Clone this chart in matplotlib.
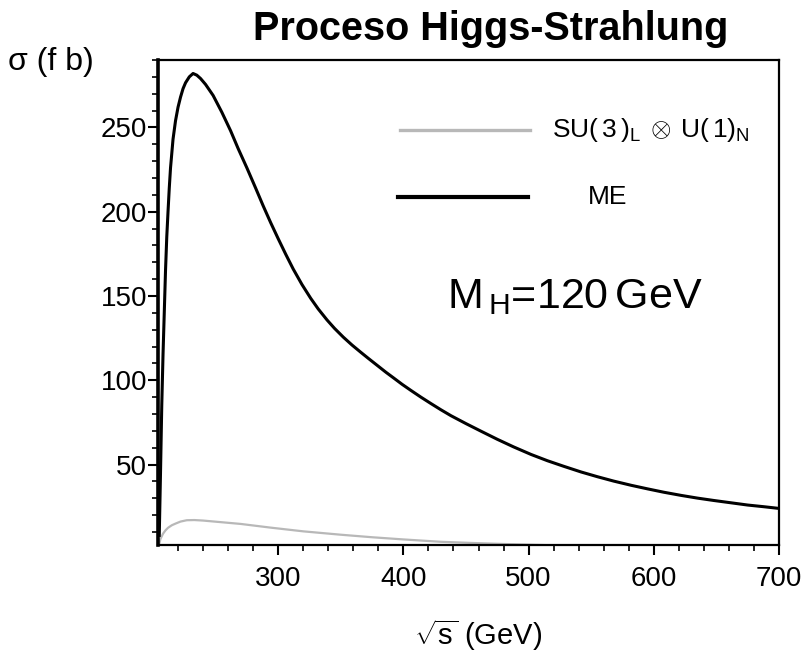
import matplotlib
matplotlib.use("Agg")
import matplotlib.pyplot as plt
from matplotlib.ticker import MultipleLocator

# Data
s_me = [205, 206, 207, 208, 209, 210, 211, 212, 213, 214, 216, 218, 220, 222, 224, 226,
        229, 232, 235, 238, 242, 248, 255, 262, 268, 275, 282, 288, 294, 300, 306, 312,
        319, 326, 332, 339, 345, 352, 359, 366, 372, 379, 386, 392, 399, 406, 414, 422,
        430, 438, 450, 462, 475, 488, 502, 515, 528, 542, 555, 568, 582, 595, 608, 622,
        635, 648, 660, 675, 688, 700]
sigma_me = [8, 45, 85, 115, 140, 165, 185, 200, 214, 226, 243, 254, 262, 268, 273, 276.5,
            280, 282, 281, 279, 275.5, 269, 259, 248, 237.5, 226, 214, 203.5, 193.5, 184,
            174.8, 166, 156.8, 148.6, 142.3, 135.8, 130.8, 125.6, 120.9, 116.6, 113, 108.9,
            104.8, 101.5, 97.6, 94, 90, 86.2, 82.5, 79, 74.3, 69.8, 65, 60.5, 56,
            52.3, 49, 45.6, 42.8, 40.2, 37.7, 35.6, 33.6, 31.7, 30.1, 28.7, 27.5, 26, 25, 24]

s_su = [205, 206, 208, 210, 212, 215, 218, 222, 227, 233, 240, 255, 270, 294, 320, 350,
        375, 400, 430, 455, 480, 520, 600, 700]
sigma_su = [3, 6, 9, 11, 12.5, 14, 15, 16.2, 17, 17.1, 16.8, 15.8, 14.8, 12.6, 10.4, 8.4,
            6.9, 5.6, 4.2, 3.5, 2.9, 2.1, 1.3, 0.8]

xticks = [300, 400, 500, 600, 700]
yticks = [50, 100, 150, 200, 250]

plt.rcParams['font.family'] = ['Liberation Sans', 'DejaVu Sans']
plt.rcParams['mathtext.fontset'] = 'custom'
plt.rcParams['mathtext.rm'] = 'Liberation Sans'

fig = plt.figure(figsize=(8.03, 6.57), dpi=100)
ax = fig.add_axes([158/803, 1-545/657, (779-158)/803, (545-60)/657])

ax.plot(s_su, sigma_su, color='#b8b8b8', lw=1.6, solid_capstyle='butt')
ax.plot(s_me, sigma_me, color='black', lw=2.2, solid_joinstyle='round')

ax.set_xlim(204, 700)
ax.set_ylim(2.3, 290)
ax.set_xticks(xticks)
ax.set_yticks(yticks)
ax.xaxis.set_minor_locator(MultipleLocator(20))
ax.yaxis.set_minor_locator(MultipleLocator(10))
ax.tick_params(axis='both', which='major', direction='out', length=7, width=1.5,
               labelsize=20)
ax.tick_params(axis='both', which='minor', direction='out', length=4, width=1.2)
ax.tick_params(axis='x', which='major', pad=8)
ax.tick_params(axis='y', which='major', pad=1)

for side in ['top', 'right', 'bottom']:
    ax.spines[side].set_linewidth(1.6)
ax.spines['left'].set_linewidth(2.6)

# Legend drawn by hand
ax.plot([0.390, 0.599], [0.856, 0.856], transform=ax.transAxes, color='#b8b8b8', lw=2.4)
ax.plot([0.387, 0.596], [0.7175, 0.7175], transform=ax.transAxes, color='black', lw=3)
ax.text(0.634, 0.856, r'SU$(\,3\,)_{\mathregular{L}}\,\otimes\,$U$(\,1)_{\mathregular{N}}$',
        transform=ax.transAxes, fontsize=19, va='center', ha='left')
ax.text(0.724, 0.7175, 'ME', transform=ax.transAxes, fontsize=19, va='center', ha='center')
ax.text(0.465, 0.511, r'M$_{\,\mathregular{H}}$=120$\,$GeV', transform=ax.transAxes,
        fontsize=31, va='center', ha='left')

fig.text(491/803, 0.985, 'Proceso Higgs-Strahlung', fontsize=28.5, fontweight='bold',
         ha='center', va='top')
fig.text(0.01, 0.905, 'σ (f b)', fontsize=23, ha='left', va='center')
fig.text(0.595, 0.033, r'$\sqrt{\mathregular{s}}$ (GeV)', fontsize=21, ha='center', va='center')

fig.savefig('out.png', dpi=100)
